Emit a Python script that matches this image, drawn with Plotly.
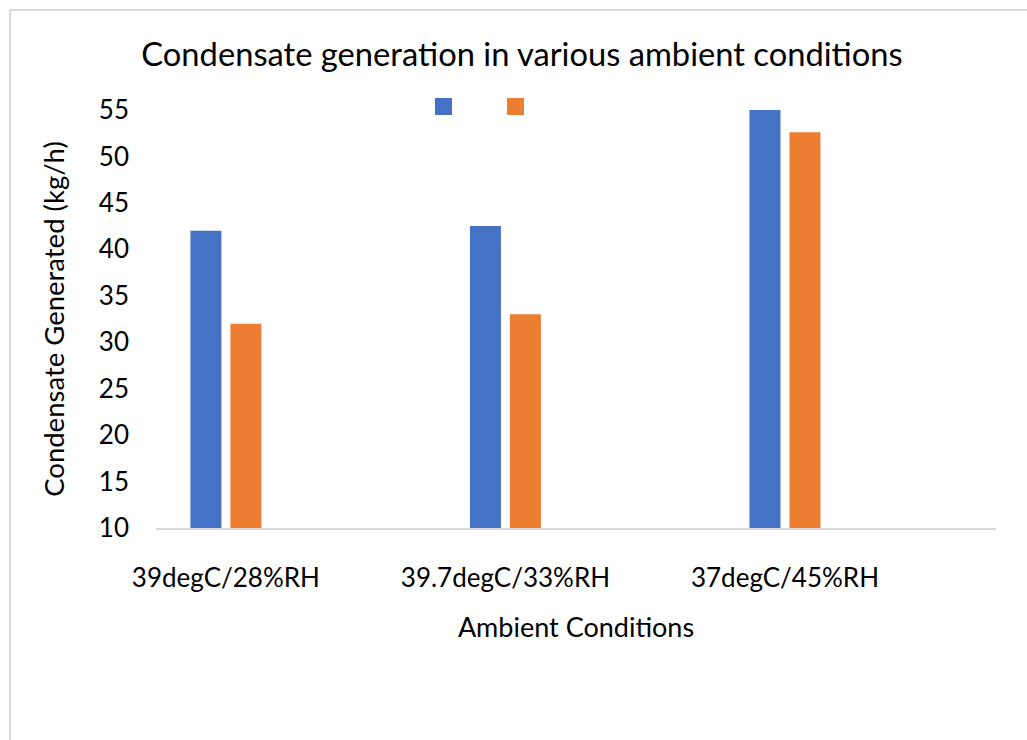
import plotly.graph_objects as go

categories = ["39degC/28%RH", "39.7degC/33%RH", "37degC/45%RH"]
series_a = [42.0, 42.5, 55.0]
series_b = [32.0, 33.0, 52.6]
y_ticks = [10, 15, 20, 25, 30, 35, 40, 45, 50, 55]

BLUE = "#4472C4"
ORANGE = "#ED7D31"
FONT = "Lato"
TXT = "#000000"

W, H = 1027, 740
ML, MR, MT, MB = 156, 31, 110, 212
PW, PH = W - ML - MR, H - MT - MB


def px_x(p):
    return (p - ML) / PW


def px_y(p):
    return (H - MB - p) / PH


fig = go.Figure()
fig.add_trace(go.Bar(x=categories, y=series_a, marker=dict(color=BLUE, line=dict(width=0)),
                     name="", showlegend=False))
fig.add_trace(go.Bar(x=categories, y=series_b, marker=dict(color=ORANGE, line=dict(width=0)),
                     name="", showlegend=False))

shapes = [
    # chart border (top and left edges visible)
    dict(type="line", xref="paper", yref="paper", x0=px_x(10), x1=px_x(1030), y0=px_y(10), y1=px_y(10),
         line=dict(color="#D9D9D9", width=2)),
    dict(type="line", xref="paper", yref="paper", x0=px_x(10), x1=px_x(10), y0=px_y(10), y1=px_y(745),
         line=dict(color="#D9D9D9", width=2)),
    # legend keys
    dict(type="rect", xref="paper", yref="paper", x0=px_x(435), x1=px_x(452), y0=px_y(115), y1=px_y(98),
         fillcolor=BLUE, line=dict(width=0)),
    dict(type="rect", xref="paper", yref="paper", x0=px_x(507), x1=px_x(524), y0=px_y(115), y1=px_y(98),
         fillcolor=ORANGE, line=dict(width=0)),
]

fig.update_layout(
    width=W, height=H,
    margin=dict(l=ML, r=MR, t=MT, b=MB),
    paper_bgcolor="white", plot_bgcolor="white",
    font=dict(family=FONT, color=TXT),
    barmode="group", bargap=0.714, bargroupgap=0.225,
    title=dict(text="Condensate generation in various ambient conditions",
               font=dict(family=FONT, size=32.7, color=TXT),
               x=522 / W, xref="container", xanchor="center",
               y=1 - 55 / H, yref="container", yanchor="middle"),
    shapes=shapes,
    showlegend=False,
)

fig.update_xaxes(
    type="category", range=[-0.25, 2.755],
    showline=True, linecolor="#D9D9D9", linewidth=2,
    showgrid=False, ticks="", tickfont=dict(family=FONT, size=26, color=TXT),
    ticklabelstandoff=26,
    title=dict(text="Ambient Conditions", font=dict(family=FONT, size=27, color=TXT), standoff=26),
    fixedrange=True,
)
fig.update_yaxes(
    range=[10, 55], tickvals=y_ticks, ticktext=[str(v) for v in y_ticks],
    showline=False, showgrid=False, zeroline=False, ticks="",
    tickfont=dict(family=FONT, size=26, color=TXT),
    ticklabelstandoff=26,
    title=dict(text="Condensate Generated (kg/h)", font=dict(family=FONT, size=27.5, color=TXT), standoff=26),
    fixedrange=True,
)

fig.write_html("out.html", config={"displayModeBar": False})
